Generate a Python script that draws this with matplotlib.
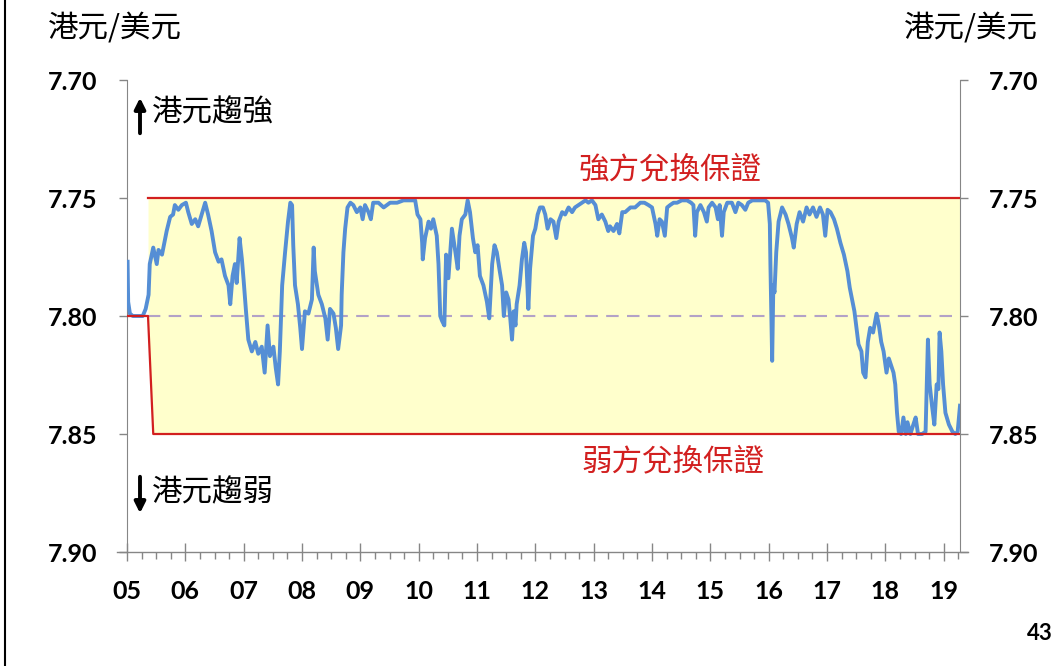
import matplotlib
matplotlib.use("Agg")
import matplotlib.pyplot as plt
from matplotlib.ticker import MultipleLocator
from matplotlib.lines import Line2D

W, H = 1059, 666

# HKD per USD (decimal year, rate)
years = [2005.01, 2005.02, 2005.05, 2005.10, 2005.19, 2005.27, 2005.32, 2005.37, 2005.39, 2005.45,
         2005.51, 2005.54, 2005.60, 2005.64, 2005.68, 2005.74, 2005.79, 2005.82, 2005.88, 2005.94,
         2006.01, 2006.05, 2006.11, 2006.17, 2006.22, 2006.28, 2006.34, 2006.39, 2006.45, 2006.51,
         2006.57, 2006.62, 2006.68, 2006.74, 2006.77, 2006.81, 2006.85, 2006.88, 2006.93, 2006.97,
         2007.00, 2007.04, 2007.08, 2007.14, 2007.20, 2007.25, 2007.31, 2007.36, 2007.41, 2007.45,
         2007.51, 2007.55, 2007.59, 2007.62, 2007.66, 2007.71, 2007.76, 2007.80, 2007.83, 2007.85,
         2007.88, 2007.93, 2007.97, 2008.00, 2008.05, 2008.11, 2008.17, 2008.20, 2008.22, 2008.28,
         2008.34, 2008.40, 2008.44, 2008.48, 2008.54, 2008.58, 2008.62, 2008.67, 2008.68, 2008.71,
         2008.74, 2008.78, 2008.83, 2008.88, 2008.94, 2009.00, 2009.04, 2009.08, 2009.14, 2009.18,
         2009.22, 2009.31, 2009.40, 2009.51, 2009.63, 2009.74, 2009.85, 2009.94, 2009.98, 2010.03,
         2010.06, 2010.07, 2010.11, 2010.17, 2010.21, 2010.25, 2010.31, 2010.34, 2010.37, 2010.40,
         2010.44, 2010.47, 2010.51, 2010.57, 2010.63, 2010.67, 2010.70, 2010.74, 2010.80, 2010.84,
         2010.88, 2010.93, 2010.97, 2011.01, 2011.05, 2011.11, 2011.17, 2011.21, 2011.26, 2011.30,
         2011.34, 2011.39, 2011.43, 2011.46, 2011.50, 2011.54, 2011.57, 2011.60, 2011.63, 2011.66,
         2011.68, 2011.73, 2011.77, 2011.81, 2011.84, 2011.88, 2011.91, 2011.96, 2012.00, 2012.04,
         2012.08, 2012.13, 2012.17, 2012.21, 2012.26, 2012.31, 2012.36, 2012.40, 2012.46, 2012.51,
         2012.57, 2012.63, 2012.68, 2012.74, 2012.80, 2012.86, 2012.91, 2012.97, 2013.03, 2013.08,
         2013.14, 2013.20, 2013.25, 2013.28, 2013.34, 2013.40, 2013.44, 2013.49, 2013.54, 2013.63,
         2013.71, 2013.80, 2013.87, 2013.94, 2014.00, 2014.06, 2014.09, 2014.13, 2014.17, 2014.22,
         2014.26, 2014.31, 2014.37, 2014.43, 2014.51, 2014.60, 2014.67, 2014.71, 2014.74, 2014.77,
         2014.83, 2014.89, 2014.94, 2014.97, 2015.03, 2015.09, 2015.13, 2015.16, 2015.20, 2015.23,
         2015.29, 2015.37, 2015.43, 2015.48, 2015.54, 2015.60, 2015.65, 2015.72, 2015.83, 2015.94,
         2015.99, 2016.02, 2016.03, 2016.05, 2016.06, 2016.08, 2016.10, 2016.13, 2016.17, 2016.23,
         2016.29, 2016.34, 2016.40, 2016.43, 2016.48, 2016.53, 2016.59, 2016.65, 2016.70, 2016.76,
         2016.82, 2016.88, 2016.93, 2016.97, 2017.01, 2017.06, 2017.12, 2017.17, 2017.23, 2017.29,
         2017.35, 2017.39, 2017.43, 2017.47, 2017.50, 2017.54, 2017.59, 2017.62, 2017.66, 2017.70,
         2017.74, 2017.79, 2017.85, 2017.89, 2017.93, 2017.97, 2018.02, 2018.06, 2018.10, 2018.14,
         2018.17, 2018.20, 2018.23, 2018.27, 2018.31, 2018.35, 2018.38, 2018.43, 2018.48, 2018.52,
         2018.56, 2018.63, 2018.69, 2018.73, 2018.76, 2018.80, 2018.84, 2018.88, 2018.91, 2018.93,
         2018.96, 2018.99, 2019.03, 2019.09, 2019.15, 2019.20, 2019.24, 2019.28]
rate = [7.777, 7.794, 7.799, 7.800, 7.800, 7.800, 7.797, 7.791, 7.778, 7.771,
        7.778, 7.772, 7.774, 7.769, 7.764, 7.758, 7.757, 7.753, 7.755, 7.753,
        7.752, 7.756, 7.761, 7.759, 7.762, 7.757, 7.752, 7.757, 7.764, 7.773,
        7.777, 7.776, 7.783, 7.787, 7.795, 7.783, 7.778, 7.786, 7.767, 7.776,
        7.785, 7.798, 7.810, 7.815, 7.811, 7.816, 7.813, 7.824, 7.804, 7.817,
        7.813, 7.822, 7.829, 7.815, 7.787, 7.773, 7.760, 7.752, 7.753, 7.770,
        7.787, 7.795, 7.805, 7.814, 7.798, 7.799, 7.793, 7.771, 7.781, 7.791,
        7.795, 7.801, 7.810, 7.797, 7.799, 7.805, 7.814, 7.804, 7.791, 7.773,
        7.763, 7.754, 7.752, 7.753, 7.756, 7.754, 7.759, 7.753, 7.756, 7.759,
        7.752, 7.752, 7.754, 7.752, 7.752, 7.751, 7.751, 7.751, 7.757, 7.759,
        7.769, 7.776, 7.767, 7.760, 7.763, 7.759, 7.766, 7.778, 7.800, 7.802,
        7.804, 7.774, 7.784, 7.763, 7.773, 7.780, 7.766, 7.759, 7.757, 7.751,
        7.756, 7.767, 7.773, 7.770, 7.783, 7.787, 7.794, 7.801, 7.778, 7.770,
        7.773, 7.781, 7.787, 7.800, 7.790, 7.793, 7.801, 7.810, 7.798, 7.804,
        7.795, 7.787, 7.776, 7.769, 7.773, 7.797, 7.780, 7.766, 7.763, 7.757,
        7.754, 7.754, 7.757, 7.763, 7.759, 7.760, 7.767, 7.760, 7.756, 7.757,
        7.754, 7.756, 7.754, 7.753, 7.752, 7.751, 7.752, 7.751, 7.753, 7.759,
        7.757, 7.760, 7.764, 7.762, 7.764, 7.761, 7.765, 7.756, 7.756, 7.754,
        7.754, 7.752, 7.752, 7.753, 7.754, 7.761, 7.766, 7.759, 7.760, 7.766,
        7.754, 7.753, 7.752, 7.752, 7.751, 7.751, 7.752, 7.753, 7.766, 7.756,
        7.753, 7.756, 7.760, 7.754, 7.752, 7.754, 7.759, 7.753, 7.766, 7.756,
        7.752, 7.752, 7.756, 7.752, 7.753, 7.755, 7.752, 7.751, 7.751, 7.751,
        7.752, 7.761, 7.778, 7.804, 7.819, 7.787, 7.790, 7.773, 7.760, 7.754,
        7.757, 7.761, 7.767, 7.771, 7.761, 7.756, 7.760, 7.754, 7.757, 7.754,
        7.758, 7.754, 7.757, 7.766, 7.755, 7.756, 7.759, 7.763, 7.769, 7.774,
        7.781, 7.788, 7.793, 7.798, 7.804, 7.812, 7.815, 7.824, 7.826, 7.811,
        7.805, 7.807, 7.799, 7.804, 7.811, 7.815, 7.824, 7.818, 7.821, 7.824,
        7.829, 7.841, 7.849, 7.850, 7.843, 7.850, 7.845, 7.850, 7.846, 7.843,
        7.850, 7.850, 7.849, 7.810, 7.829, 7.838, 7.846, 7.829, 7.831, 7.807,
        7.815, 7.829, 7.841, 7.846, 7.849, 7.850, 7.849, 7.838]

# convertibility undertakings
strong_side = 7.75
weak_x = [2005.0, 2005.36, 2005.45, 2019.28]
weak_y = [7.80, 7.80, 7.85, 7.85]
band_start = 2005.36
x_end = 2019.28
link_rate = 7.80

year_ticks = list(range(2005, 2020))
year_labels = ["05", "06", "07", "08", "09", "10", "11", "12", "13", "14",
               "15", "16", "17", "18", "19"]
rate_ticks = [7.70, 7.75, 7.80, 7.85, 7.90]
rate_labels = ["7.70", "7.75", "7.80", "7.85", "7.90"]

plt.rcParams['font.family'] = ['Lato', 'DejaVu Sans']
plt.rcParams['font.weight'] = 'bold'
cjk = ['Noto Sans CJK TC', 'DejaVu Sans']

fig = plt.figure(figsize=(W / 100, H / 100), dpi=100)
ax = fig.add_axes([127 / W, 1 - 552 / H, (960 - 127) / W, (552 - 80) / H])

ax.fill_between(weak_x[1:], strong_side, weak_y[1:], color='#FFFFCC', lw=0, zorder=1)
ax.axhline(link_rate, color='#B3A2C7', lw=1.5, dashes=(6, 4), zorder=2)
ax.plot(years, rate, color='#558ED5', lw=2.8, zorder=3)
ax.plot([band_start, x_end], [strong_side, strong_side], color='#D21F1F', lw=1.6, zorder=4)
ax.plot(weak_x, weak_y, color='#D21F1F', lw=1.6, zorder=4)

ax.set_xlim(2005, x_end)
ax.set_ylim(7.90, 7.70)
ax.set_xticks(year_ticks)
ax.set_xticklabels(year_labels)
ax.xaxis.set_minor_locator(MultipleLocator(0.25))
ax.set_yticks(rate_ticks)
ax.set_yticklabels(rate_labels)

gray = '#868686'
for s in ['left', 'right', 'bottom']:
    ax.spines[s].set_color(gray)
ax.spines['top'].set_visible(False)
ax.spines['bottom'].set_visible(False)
ax.plot([-0.012, 1.01], [0, 0], transform=ax.transAxes, color=gray, lw=1, clip_on=False)

ax.tick_params(axis='x', which='major', direction='inout', length=13, width=1,
               color=gray, labelsize=18, pad=14)
ax.tick_params(axis='x', which='minor', direction='out', length=5, width=1, color=gray)
ax.tick_params(axis='y', direction='out', length=6, width=1, color=gray, labelsize=18,
               pad=15, left=True, right=True, labelleft=True, labelright=True)


def ftext(x, y, s, **kw):
    fig.text(x / W, 1 - y / H, s, **kw)


ftext(48, 28, "港元/美元", family=cjk, weight='normal', fontsize=22, va='center', ha='left')
ftext(1038, 28, "港元/美元", family=cjk, weight='normal', fontsize=22, va='center', ha='right')
ftext(152, 113, "港元趨強", family=cjk, weight='normal', fontsize=22, va='center', ha='left')
ftext(152, 493, "港元趨弱", family=cjk, weight='normal', fontsize=22, va='center', ha='left')
ftext(670, 170, "強方兌換保證", family=cjk, weight='normal', fontsize=22, va='center',
      ha='center', color='#D21F1F')
ftext(673, 462, "弱方兌換保證", family=cjk, weight='normal', fontsize=22, va='center',
      ha='center', color='#D21F1F')
ftext(1040, 634, "43", fontsize=16, weight='bold', va='center', ha='center')

arrow = dict(arrowstyle='-|>', lw=2.8, color='black', mutation_scale=16)
ax.annotate('', xy=(140, H - 95), xytext=(140, H - 136), xycoords='figure pixels',
            textcoords='figure pixels', arrowprops=arrow, annotation_clip=False)
ax.annotate('', xy=(140, H - 516), xytext=(140, H - 474), xycoords='figure pixels',
            textcoords='figure pixels', arrowprops=arrow, annotation_clip=False)

fig.add_artist(Line2D([5 / W, 5 / W], [0, 1], color='black', lw=1.5))

fig.savefig("out.png", dpi=100)
